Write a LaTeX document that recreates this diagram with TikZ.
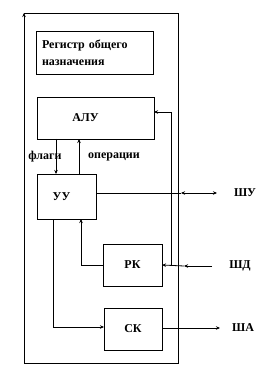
\documentclass[tikz,border=0pt]{standalone}
\usepackage{fontspec}
\setmainfont{Liberation Serif}
\usetikzlibrary{arrows.meta}

\begin{document}
\begin{tikzpicture}[x=1pt,y=-1pt,line width=0.8pt,
  >={Stealth[length=4pt,width=3.5pt]},
  every node/.style={font=\fontsize{12}{17}\selectfont\bfseries},
  box/.style={draw, inner sep=0pt, outer sep=0pt}]
\useasboundingbox (0,0) rectangle (262,371);

% frame
\draw (24,13) -- (178,13) -- (178,363) -- (24,363);
\draw[->] (24,363) -- (24,13);

% blocks
\node[box, minimum width=117pt, minimum height=43pt, text width=105pt, align=left] (reg) at (94.5,52.5) {Регистр общего\\назначения};
\node[box, minimum width=117pt, minimum height=42pt, label={[xshift=-10pt]center:АЛУ}] (alu) at (95.5,118) {};
\node[box, minimum width=59pt, minimum height=45pt, label={[xshift=-5pt]center:УУ}] (uu) at (66.5,196.5) {};
\node[box, minimum width=59pt, minimum height=42pt] (rk) at (132.5,265) {РК};
\node[box, minimum width=58pt, minimum height=42pt] (sk) at (133,329) {СК};

% labels
\node (flags) at (45,157) {флаги};
\node (ops) at (114,157) {операции};
\node (shu) at (245,193) {ШУ};
\node (shd) at (240,266) {ШД};
\node (sha) at (243,328) {ША};

\coordinate (shuL) at (181,193);
\coordinate (shuR) at (217,193);
\coordinate (shdR) at (212,266);
\coordinate (shdM) at (184,266);
\coordinate (fork) at (171,266);
\coordinate (shaR) at (220,328);

% connectors
\draw[->] ([xshift=-39.5pt]alu.south) -- ([xshift=-10.5pt]uu.north);
\draw[->] ([xshift=12.5pt]uu.north) -- ([xshift=-16.5pt]alu.south);
\draw ([yshift=3.5pt]uu.east) -- (shuL);
\draw[<->] (shuL) -- (shuR);
\draw[->] (shdR) -- (shdM);
\draw[->] (shdM) -- (rk.east);
\draw[->] (fork) |- ([yshift=6pt]alu.east);
\draw[->] (rk.west) -| ([xshift=14.5pt]uu.south);
\draw[->] ([xshift=-13.5pt]uu.south) |- ([yshift=2pt]sk.west);
\draw[->] ([yshift=1pt]sk.east) -- (shaR);
\end{tikzpicture}
\end{document}
